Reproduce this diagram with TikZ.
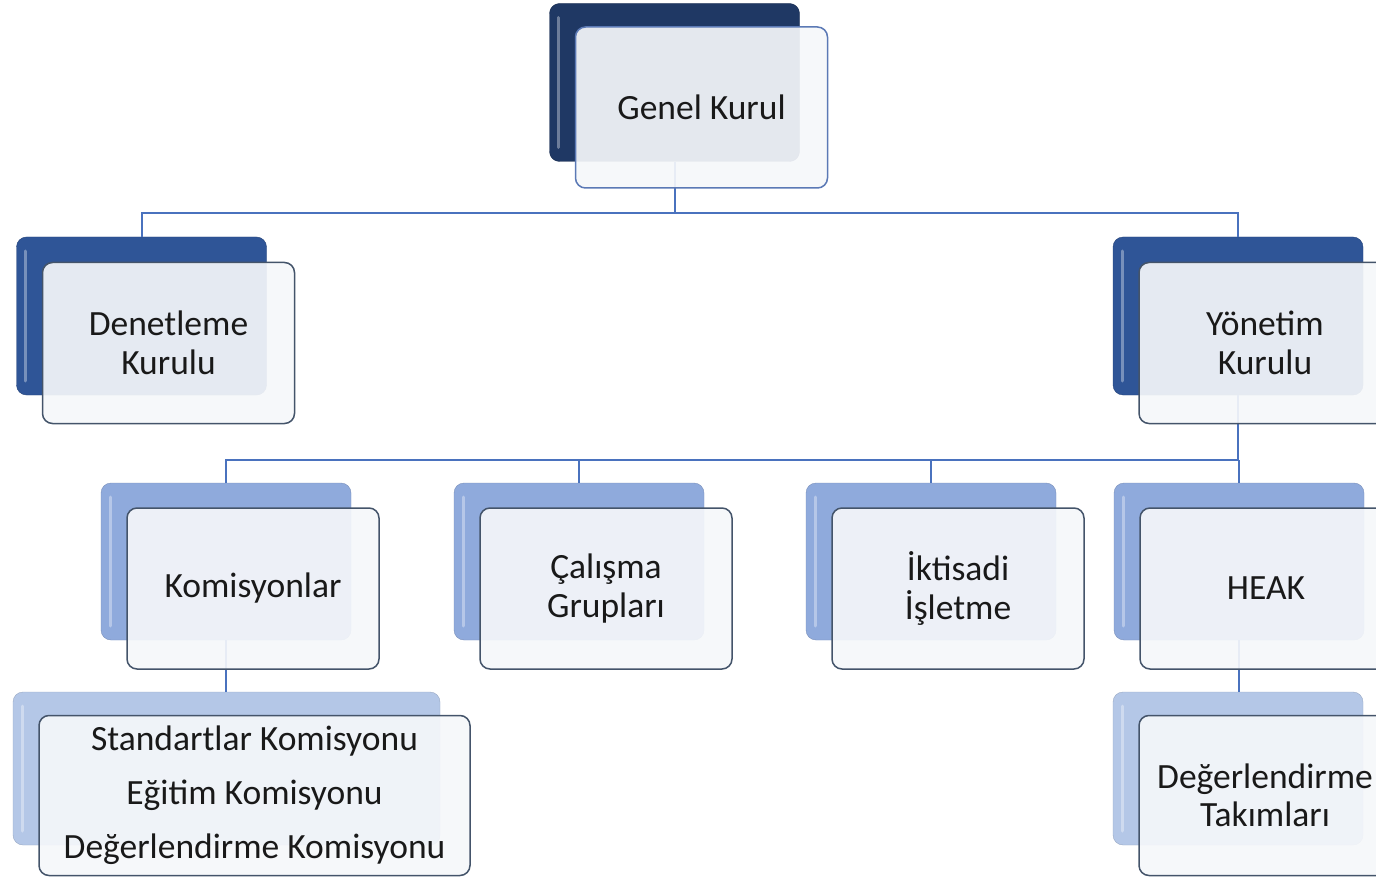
\documentclass[tikz,border=0pt]{standalone}
\usepackage{fontspec}
\setmainfont{Carlito}
\definecolor{navy}{HTML}{1F3864}
\definecolor{midblue}{HTML}{2F5597}
\definecolor{lightblue}{HTML}{8FAADC}
\definecolor{paleblue}{HTML}{B4C7E7}
\definecolor{linkblue}{HTML}{4A72BE}
\definecolor{frontfill}{HTML}{F5F7FA}
\definecolor{frontline}{HTML}{44546A}
\definecolor{topline}{HTML}{5B79B5}
\tikzset{
  backbox/.style={rounded corners=10pt, minimum width=250pt, minimum height=158pt, inner sep=0pt,
    path picture={\draw[white, opacity=.35, line width=3pt, line cap=round]
      ([xshift=9pt,yshift=-14pt]path picture bounding box.north west) --
      ([xshift=9pt,yshift=14pt]path picture bounding box.south west);}},
  backdark/.style={backbox, fill=navy, draw=navy!80!black},
  backmid/.style={backbox, fill=midblue, draw=midblue!80!black},
  backlight/.style={backbox, fill=lightblue, draw=lightblue!85!black, minimum height=157pt},
  backpale/.style={backbox, fill=paleblue, draw=paleblue!85!black, minimum height=153pt},
  frontbox/.style={rounded corners=10pt, minimum width=252pt, minimum height=161pt, inner sep=0pt,
    fill=frontfill, fill opacity=.92, text opacity=1, draw=frontline, line width=1.5pt,
    align=center, text=black!90, font=\fontsize{35.5pt}{39pt}\selectfont},
  link/.style={draw=linkblue, line width=2pt}
}
\begin{document}
\begin{tikzpicture}[x=1pt, y=-1pt]
\useasboundingbox (0,0) rectangle (1376,877);
\clip (0,0) rectangle (1376,877);
% back boxes
\node[backdark] (gkb) at (674.5,82.5) {};
\node[backmid] (dkb) at (141.5,316) {};
\node[backmid] (ykb) at (1238,316) {};
\node[backlight] (komb) at (226,561.5) {};
\node[backlight, right of=komb, node distance=353pt] (calb) {};
\node[backlight, right of=calb, node distance=352pt] (iktb) {};
\node[backlight, right of=iktb, node distance=308pt] (heakb) {};
\node[backpale, minimum width=427pt] (stdb) at (226.5,768.5) {};
\node[backpale] (dtb) at (1238,768.5) {};
% connectors
\draw[link] (gkb.south) -- ++(0,51) coordinate (topbus);
\draw[link] (dkb.north) |- (topbus) -| (ykb.north);
\draw[link] (ykb.south) -- ++(0,65) coordinate (midbus);
\draw[link] (komb.north) |- (midbus);
\foreach \b in {calb,iktb,heakb}
  \draw[link] (\b.north) -- (\b.north |- midbus);
\draw[link] (komb.south) -- (komb.south |- stdb.north);
\draw[link] (heakb.south) -- (heakb.south |- dtb.north);
% front boxes
\node[frontbox, draw=topline, xshift=27pt, yshift=-25pt] (gk) at (gkb) {Genel Kurul};
\node[frontbox, xshift=27pt, yshift=-27pt] (dk) at (dkb) {Denetleme\\Kurulu};
\node[frontbox, xshift=27pt, yshift=-27pt] (yk) at (ykb) {Yönetim\\Kurulu};
\node[frontbox, xshift=27pt, yshift=-27pt] (kom) at (komb) {Komisyonlar};
\node[frontbox, xshift=27pt, yshift=-27pt] (cal) at (calb) {Çalışma\\Grupları};
\node[frontbox, xshift=27pt, yshift=-27pt] (ikt) at (iktb) {İktisadi\\İşletme};
\node[frontbox, xshift=27pt, yshift=-27pt] (heak) at (heakb) {HEAK};
\node[frontbox, minimum width=431pt, minimum height=160pt, xshift=28pt, yshift=-27pt,
  font=\fontsize{35.5pt}{54pt}\selectfont] (std) at (stdb)
  {Standartlar Komisyonu\\Eğitim Komisyonu\\Değerlendirme Komisyonu};
\node[frontbox, minimum height=160pt, xshift=27pt, yshift=-27pt,
  font=\fontsize{35.5pt}{38pt}\selectfont] (dt) at (dtb) {Değerlendirme\\Takımları};
\end{tikzpicture}
\end{document}
